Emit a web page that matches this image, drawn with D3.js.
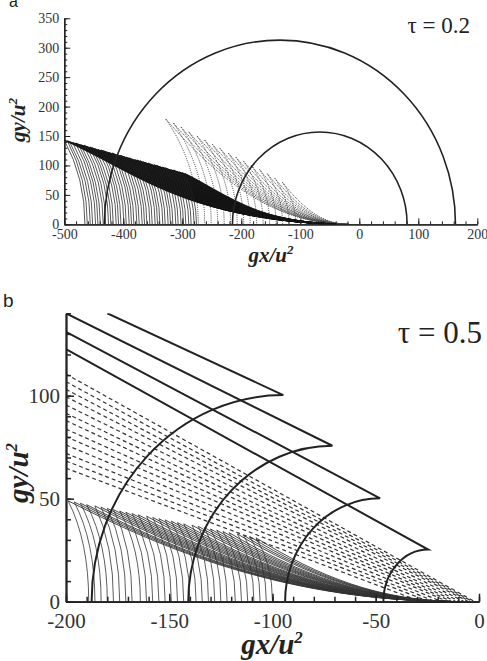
<!DOCTYPE html>
<html>
<head>
<meta charset="utf-8">
<script src="https://cdn.jsdelivr.net/npm/d3@7"></script>
<style>
  body { margin: 0; background: #fff; }
</style>
</head>
<body>
<svg width="487" height="661"></svg>
<script>
// ---------- panel a (tau = 0.2) ----------
// dark family: cusp points along the upper edge, foot of each arc on the ground
const aDarkCuspX = [-500,-495,-491,-486,-481,-476,-472,-467,-462,-457,-453,-448,-443,-438,-434,-429,-424,-419,-415,-410,
  -405,-400,-396,-391,-386,-381,-377,-372,-367,-363,-358,-353,-348,-344,-339,-334,-329,-325,-320,-315,-310,-306,-301,-296];
const aDarkCuspY = [143,142,140,139,138,136,135,134,132,131,130,128,127,126,125,123,122,121,119,118,
  117,115,114,113,111,110,109,108,106,105,104,102,101,100,98,97,96,94,93,92,90,89,88,86];
const aDarkBaseX = [-465,-461,-456,-452,-447,-443,-439,-434,-430,-425,-421,-417,-412,-408,-404,-399,-395,-390,-386,-382,
  -377,-373,-368,-364,-360,-355,-351,-346,-342,-338,-333,-329,-324,-320,-316,-311,-307,-302,-298,-294,-289,-285,-280,-276];
const aDarkRayEnd = -40;

// dotted grey family
const aGreyCuspX = [-328,-315,-302,-289,-275,-262,-249,-236,-222,-209,-196,-183,-169,-156,-143,-130];
const aGreyCuspY = [179,172,165,157,150,143,136,129,121,114,107,100,93,86,78,71];
const aGreyBaseX = [-273,-262,-251,-240,-229,-218,-207,-196,-185,-174,-163,-152,-141,-130,-119,-108];
const aGreyRayEnd = -18;

// semicircles: left foot, right foot, top
const aCircLeft = [-432, -215];
const aCircRight = [163, 81];
const aCircTop = [313, 157];

const aXTicks = [-500,-400,-300,-200,-100,0,100,200];
const aYTicks = [0,50,100,150,200,250,300,350];

// ---------- panel b (tau = 0.5) ----------
const bThinCuspX = [-199,-196,-193,-190,-186,-183,-180,-177,-174,-171,-168,-165,-161,-158,-155,
  -152,-149,-146,-143,-139,-136,-133,-130,-127,-124,-121,-117,-114,-111,-108];
const bThinCuspY = [49,48.4,47.8,47.1,46.5,45.9,45.3,44.7,44,43.4,42.8,42.2,41.5,40.9,40.3,
  39.7,39.1,38.4,37.8,37.2,36.6,36,35.3,34.7,34.1,33.5,32.9,32.2,31.6,31];
const bThinBaseX = [-189,-186,-183,-180,-177,-174,-171,-168,-164,-161,-158,-155,-152,-149,-146,
  -143,-140,-137,-134,-131,-128,-125,-122,-118,-115,-112,-109,-106,-103,-100];
const bThinRayEnd = -8;

// dashed rays: height at the left axis, landing point
const bDashY0 = [110.5,106.8,103.1,99.5,95.5,91.5,87.9,83.8,80.1,76.1,72,68.3,64.8];
const bDashEndX = [-2,-3,-4,-5,-7,-9,-11,-13,-15,-18,-21,-24,-28];

// thick curves: start of ray, cusp, foot of arc
const bThickStartX = [-180,-200,-200,-200];
const bThickStartY = [140,140,131,122.6];
const bThickCuspX = [-94.8,-71,-47.9,-24.6];
const bThickCuspY = [100.3,75.7,50.2,25.3];
const bThickBaseX = [-187.6,-140.8,-93.9,-46.3];

const bXTicks = [-200,-150,-100,-50,0];
const bYTicks = [0,50,100];

// ---------- setup ----------
const SERIF = "Liberation Serif";
const SANS = "Liberation Sans";

const svg = d3.select("svg");

const xA = d3.scaleLinear().domain([-500, 200]).range([64.3, 477.3]);
const yA = d3.scaleLinear().domain([0, 350]).range([224.3, 18.3]);
const xB = d3.scaleLinear().domain([-200, 0]).range([66, 479]);
const yB = d3.scaleLinear().domain([0, 140]).range([601.7, 313.3]);

// ray from cusp down to the ground; shape = [x1 frac, y1 frac, x2 frac, y2 frac]
function rayPath(x, y, cx, cy, ex, s) {
  const dx = ex - cx;
  const p = d3.path();
  p.moveTo(x(cx), y(cy));
  p.bezierCurveTo(x(cx + s[0] * dx), y(s[1] * cy), x(cx + s[2] * dx), y(s[3] * cy), x(ex), y(0));
  return p.toString();
}

// arc from cusp down to its foot, vertical at the ground
function footPath(x, y, cx, cy, bx, k) {
  const p = d3.path();
  p.moveTo(x(cx), y(cy));
  p.quadraticCurveTo(x(bx), y(k * cy), x(bx), y(0));
  return p.toString();
}

function clip(id, x, y) {
  svg.append("clipPath").attr("id", id)
    .append("rect")
    .attr("x", x.range()[0]).attr("y", y.range()[1])
    .attr("width", x.range()[1] - x.range()[0])
    .attr("height", y.range()[0] - y.range()[1]);
}
clip("clipA", xA, yA);
clip("clipB", xB, yB);

const darkShape = [0.26, 0.63, 0.435, 0.07];
const softShape = [0.3, 0.4, 0.6, 0];

// ---------- panel a marks ----------
const gA = svg.append("g").attr("clip-path", "url(#clipA)");

gA.selectAll("path.greyray").data(d3.range(aGreyCuspX.length)).enter().append("path")
  .attr("d", i => rayPath(xA, yA, aGreyCuspX[i], aGreyCuspY[i], aGreyRayEnd, softShape))
  .attr("fill", "none").attr("stroke", "#444").attr("stroke-width", 1).attr("stroke-dasharray", "1,1.1");
gA.selectAll("path.greyarc").data(d3.range(aGreyCuspX.length)).enter().append("path")
  .attr("d", i => footPath(xA, yA, aGreyCuspX[i], aGreyCuspY[i], aGreyBaseX[i], 0.55))
  .attr("fill", "none").attr("stroke", "#444").attr("stroke-width", 1).attr("stroke-dasharray", "1,1.1");

gA.selectAll("path.darkray").data(d3.range(aDarkCuspX.length)).enter().append("path")
  .attr("d", i => rayPath(xA, yA, aDarkCuspX[i], aDarkCuspY[i], aDarkRayEnd, darkShape))
  .attr("fill", "none").attr("stroke", "#151515").attr("stroke-width", 1.3);
gA.selectAll("path.darkarc").data(d3.range(aDarkCuspX.length)).enter().append("path")
  .attr("d", i => footPath(xA, yA, aDarkCuspX[i], aDarkCuspY[i], aDarkBaseX[i], 0.55))
  .attr("fill", "none").attr("stroke", "#222").attr("stroke-width", 0.75);

gA.selectAll("path.circ").data(aCircLeft).enter().append("path")
  .attr("d", (d, i) => {
    const rx = (xA(aCircRight[i]) - xA(d)) / 2;
    const ry = yA(0) - yA(aCircTop[i]);
    return `M${xA(d)},${yA(0)} A${rx},${ry} 0 0 1 ${xA(aCircRight[i])},${yA(0)}`;
  })
  .attr("fill", "none").attr("stroke", "#222").attr("stroke-width", 1.6);

// ---------- panel b marks ----------
const gB = svg.append("g").attr("clip-path", "url(#clipB)");

gB.selectAll("path.thinray").data(d3.range(bThinCuspX.length)).enter().append("path")
  .attr("d", i => rayPath(xB, yB, bThinCuspX[i], bThinCuspY[i], bThinRayEnd, softShape))
  .attr("fill", "none").attr("stroke", "#333").attr("stroke-width", 0.9);
gB.selectAll("path.thinarc").data(d3.range(bThinCuspX.length)).enter().append("path")
  .attr("d", i => footPath(xB, yB, bThinCuspX[i], bThinCuspY[i], bThinBaseX[i], 0.6))
  .attr("fill", "none").attr("stroke", "#333").attr("stroke-width", 0.8);

gB.selectAll("line.dash").data(bDashY0).enter().append("line")
  .attr("x1", xB(-200)).attr("y1", d => yB(d))
  .attr("x2", (d, i) => xB(bDashEndX[i])).attr("y2", yB(0))
  .attr("stroke", "#333").attr("stroke-width", 1.2).attr("stroke-dasharray", "4,3");

gB.selectAll("path.thick").data(bThickCuspX).enter().append("path")
  .attr("d", (d, i) => {
    const rx = xB(d) - xB(bThickBaseX[i]);
    const ry = yB(0) - yB(bThickCuspY[i]);
    return `M${xB(bThickStartX[i])},${yB(bThickStartY[i])} L${xB(d)},${yB(bThickCuspY[i])}` +
      ` A${rx},${ry} 0 0 0 ${xB(bThickBaseX[i])},${yB(0)}`;
  })
  .attr("fill", "none").attr("stroke", "#222").attr("stroke-width", 2);

// ---------- axes ----------
function axes(x, y, opt) {
  const xMinor = d3.range(x.domain()[0], x.domain()[1] + 0.1, opt.xMinorStep);
  const yMinor = d3.range(y.domain()[0], y.domain()[1] + 0.1, opt.yMinorStep);

  const bx = svg.append("g").attr("transform", `translate(0,${y(0)})`);
  bx.call(d3.axisBottom(x).tickValues(xMinor).tickFormat("").tickSize(-opt.minor).tickSizeOuter(0));
  const bx2 = svg.append("g").attr("transform", `translate(0,${y(0)})`);
  bx2.call(d3.axisBottom(x).tickValues(opt.xTicks).tickSize(-opt.major).tickSizeOuter(0)
    .tickPadding(opt.xPad).tickFormat(d3.format("d")));

  const ly = svg.append("g").attr("transform", `translate(${x.range()[0]},0)`);
  ly.call(d3.axisLeft(y).tickValues(yMinor).tickFormat("").tickSize(-opt.minor).tickSizeOuter(0));
  const ly2 = svg.append("g").attr("transform", `translate(${x.range()[0]},0)`);
  ly2.call(d3.axisLeft(y).tickValues(opt.yTicks).tickSize(-opt.major).tickSizeOuter(0)
    .tickPadding(opt.yPad).tickFormat(d3.format("d")));

  [bx, bx2, ly, ly2].forEach(g => {
    g.attr("font-family", null);
    g.selectAll("path.domain").attr("stroke", "#222").attr("stroke-width", opt.lw);
    g.selectAll("line").attr("stroke", "#222").attr("stroke-width", opt.tw);
    g.selectAll("text").style("font-family", SERIF).style("font-size", opt.fs + "px").attr("fill", "#333")
      .text(function () { return this.textContent.replace("−", "-"); });
  });
}

axes(xA, yA, { xTicks: aXTicks, yTicks: aYTicks, xMinorStep: 20, yMinorStep: 10,
  minor: 3, major: 6, xPad: 5, yPad: 5, fs: 14, lw: 1.3, tw: 1 });
axes(xB, yB, { xTicks: bXTicks, yTicks: bYTicks, xMinorStep: 10, yMinorStep: 10,
  minor: 5, major: 8, xPad: 11, yPad: 6, fs: 21, lw: 1.8, tw: 1.5 });

// ---------- text ----------
function title(x, y, size, rotate, label) {
  const t = svg.append("text").style("font-family", SERIF).style("font-weight", "bold")
    .style("font-style", "italic").style("font-size", size + "px").attr("fill", "#222")
    .attr("text-anchor", "middle")
    .attr("transform", `translate(${x},${y})` + (rotate ? " rotate(-90)" : ""));
  t.append("tspan").text(label);
  t.append("tspan").style("font-size", Math.round(size * 0.6) + "px").attr("dy", -size * 0.38).text("2");
}
title(271, 262, 21, false, "gx/u");
title(25, 120, 21, true, "gy/u");
title(272, 654, 29, false, "gx/u");
title(28, 473, 29, true, "gy/u");

svg.append("text").style("font-family", SERIF).attr("fill", "#222")
  .attr("x", 470).attr("y", 33).attr("text-anchor", "end")
  .style("font-size", "23px").text("τ = 0.2");
svg.append("text").style("font-family", SERIF).attr("fill", "#222")
  .attr("x", 482).attr("y", 343).attr("text-anchor", "end")
  .style("font-size", "31px").text("τ = 0.5");

svg.append("text").style("font-family", SANS).attr("fill", "#222").attr("x", 9).attr("y", 7)
  .style("font-size", "16px").text("a");
svg.append("text").style("font-family", SANS).attr("fill", "#222").attr("x", 3).attr("y", 307)
  .style("font-size", "19px").text("b");
</script>
</body>
</html>
